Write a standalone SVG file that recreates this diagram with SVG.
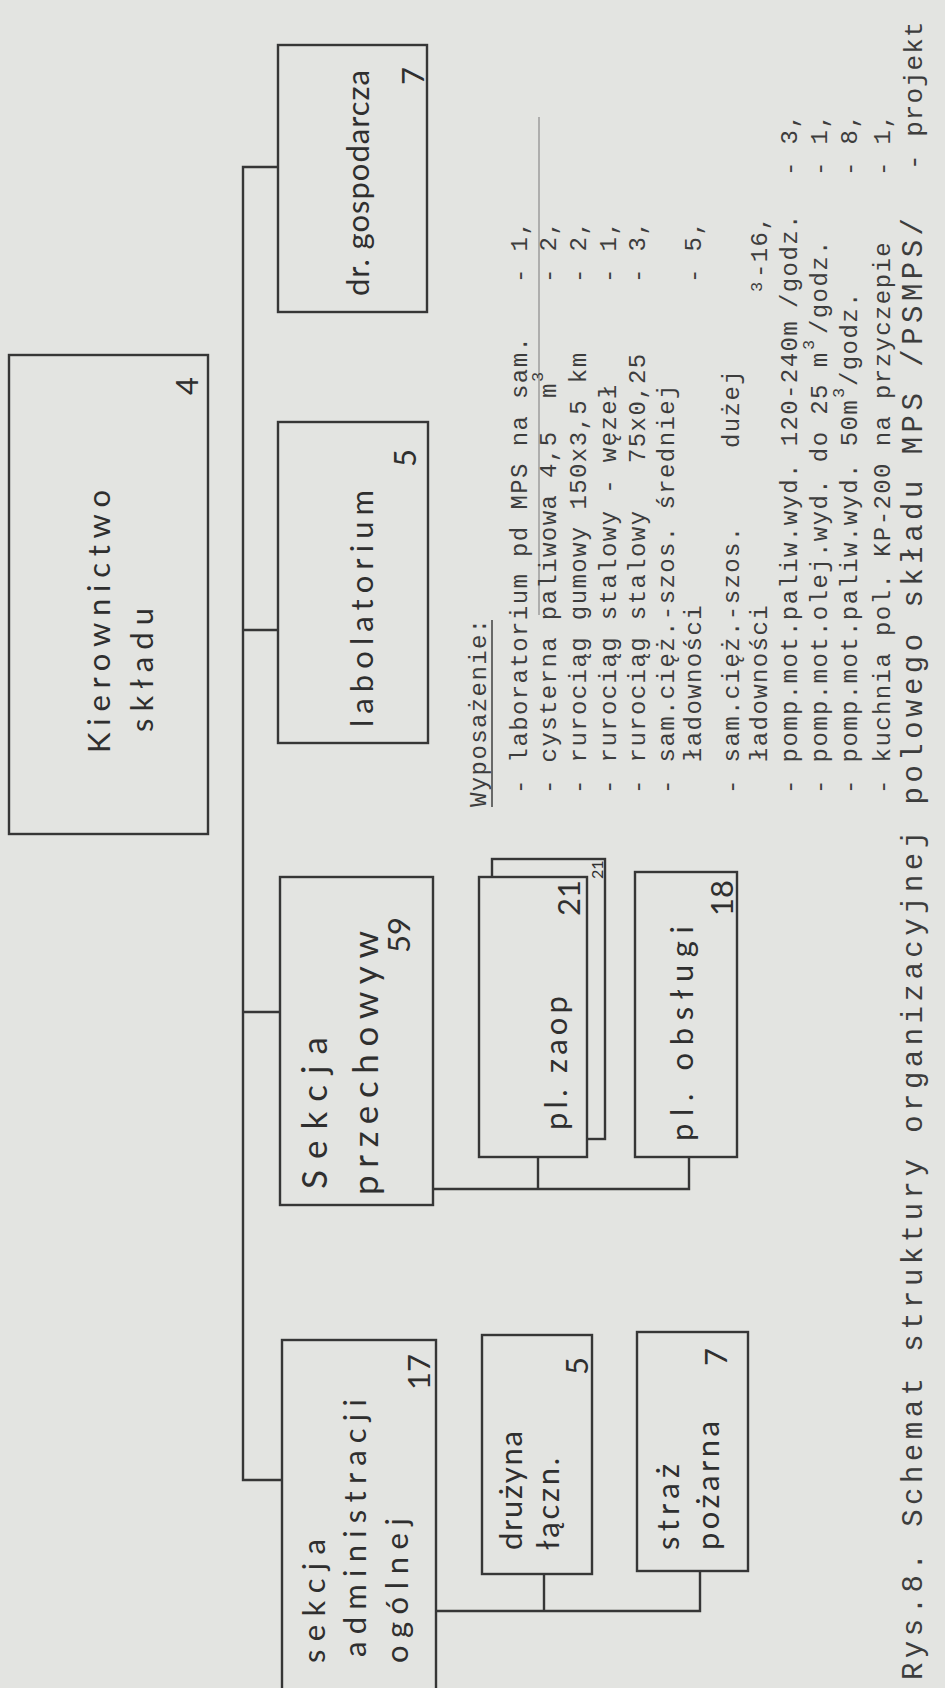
<svg xmlns="http://www.w3.org/2000/svg" width="945" height="1688" viewBox="0 0 945 1688">
<style>
.box{fill:#e3e4e1;stroke:#363636;stroke-width:2.4}
.ln{fill:none;stroke:#363636;stroke-width:2.4}
.rule{fill:none;stroke:#8a8a8a;stroke-width:1.2}
.hw{font-family:Lato,"Open Sans",sans-serif;font-size:31px;fill:#2f2f2f}
.big{font-size:35px}
.tw{font-family:"Liberation Mono","DejaVu Sans Mono",monospace;font-size:24px;letter-spacing:1.4px;fill:#3d3d3d}
.cap{font-family:"Liberation Mono","DejaVu Sans Mono",monospace;font-size:29px;fill:#3d3d3d}
.sup{font-family:"Liberation Mono","DejaVu Sans Mono",monospace;font-size:17px;fill:#3d3d3d}
</style>
<rect width="945" height="1688" fill="#e3e4e1"/>
<g transform="translate(0,1688) rotate(-90)">
  <g id="connectors">
    <path class="ln" d="M1521,278 L1521,243 L208,243 L208,282 M1058,243 L1058,278 M676,243 L676,280"/>
    <path class="ln" d="M499,433 L499,689 L531,689 M499,538 L531,538"/>
    <path class="ln" d="M77,436 L77,700 L117,700 M77,544 L114,544"/>
  </g>
  <g id="kierownictwo">
    <rect class="box" x="854" y="9" width="479" height="199"/>
    <text class="hw" x="935" y="110" textLength="263" lengthAdjust="spacing">Kierownictwo</text>
    <text class="hw" x="956" y="153" textLength="124" lengthAdjust="spacing">składu</text>
    <text class="hw" x="1293" y="198">4</text>
  </g>
  <g id="dr-gospodarcza">
    <rect class="box" x="1376" y="278" width="267" height="149"/>
    <text class="hw" x="1392" y="369" textLength="226" lengthAdjust="spacing">dr. gospodarcza</text>
    <text class="hw" x="1603" y="424">7</text>
  </g>
  <g id="labolatorium">
    <rect class="box" x="945" y="278" width="321" height="150"/>
    <text class="hw" x="961" y="373" textLength="237" lengthAdjust="spacing">labolatorium</text>
    <text class="hw" x="1221" y="416">5</text>
  </g>
  <g id="sekcja-przechowywania">
    <rect class="box" x="483" y="280" width="328" height="153"/>
    <text class="hw big" x="499" y="327" textLength="152" lengthAdjust="spacing">Sekcja</text>
    <text class="hw big" x="493" y="378" textLength="264" lengthAdjust="spacing">przechowyw</text>
    <text class="hw" x="735" y="410">59</text>
  </g>
  <g id="sekcja-administracji">
    <rect class="box" x="-2" y="282" width="350" height="154"/>
    <text class="hw" x="25" y="325" textLength="124" lengthAdjust="spacing">sekcja</text>
    <text class="hw" x="31" y="366" textLength="258" lengthAdjust="spacing">administracji</text>
    <text class="hw" x="25" y="408" textLength="145" lengthAdjust="spacing">ogólnej</text>
    <text class="hw" x="298" y="430">17</text>
  </g>
  <g id="pl-zaop">
    <rect class="box" x="549" y="492" width="280" height="113"/>
    <rect class="box" x="531" y="479" width="280" height="108"/>
    <text class="hw" x="558" y="567" textLength="134" lengthAdjust="spacing">pl. zaop</text>
    <text class="hw" x="772" y="580">21</text>
    <text class="hw" x="809" y="603" style="font-size:16px">21</text>
  </g>
  <g id="pl-obslugi">
    <rect class="box" x="531" y="635" width="285" height="102"/>
    <text class="hw" x="547" y="693" textLength="215" lengthAdjust="spacing">pl. obsługi</text>
    <text class="hw" x="772" y="733">18</text>
  </g>
  <g id="druzyna-laczn">
    <rect class="box" x="114" y="482" width="239" height="110"/>
    <text class="hw" x="138" y="522" textLength="119" lengthAdjust="spacing">drużyna</text>
    <text class="hw" x="138" y="559" textLength="92" lengthAdjust="spacing">łączn.</text>
    <text class="hw" x="313" y="588">5</text>
  </g>
  <g id="straz-pozarna">
    <rect class="box" x="117" y="637" width="239" height="111"/>
    <text class="hw" x="138" y="679" textLength="86" lengthAdjust="spacing">straż</text>
    <text class="hw" x="138" y="719" textLength="129" lengthAdjust="spacing">pożarna</text>
    <text class="hw" x="322" y="727">7</text>
  </g>
  <g id="wyposazenie">
    <line class="rule" x1="1073" y1="539" x2="1571" y2="539"/>
    <text class="tw" x="881" y="486">Wyposażenie:</text>
    <line class="rule" x1="881" y1="492" x2="1068" y2="492" style="stroke:#4a4a4a;stroke-width:1.6"/>
    <text class="tw" x="894" y="527">- laboratorium pd MPS na sam.</text>
    <text class="tw" x="1405" y="527">- 1,</text>
    <text class="tw" x="894" y="556">- cysterna paliwowa 4,5</text>
    <text class="tw" x="1290" y="556">m</text>
    <text class="sup" x="1306" y="543">3</text>
    <text class="tw" x="1405" y="556">- 2,</text>
    <text class="tw" x="894" y="586">- rurociąg gumowy 150x3,5 km</text>
    <text class="tw" x="1405" y="586">- 2,</text>
    <text class="tw" x="894" y="616">- rurociąg stalowy - węzeł</text>
    <text class="tw" x="1405" y="616">- 1,</text>
    <text class="tw" x="894" y="645">- rurociąg stalowy</text>
    <text class="tw" x="1225" y="645">75x0,25</text>
    <text class="tw" x="1405" y="645">- 3,</text>
    <text class="tw" x="894" y="674">- sam.cięż.-szos. średniej</text>
    <text class="tw" x="926" y="701">ładowności</text>
    <text class="tw" x="1405" y="701">- 5,</text>
    <text class="tw" x="894" y="739">- sam.cięż.-szos.</text>
    <text class="tw" x="1240" y="739">dużej</text>
    <text class="tw" x="926" y="767">ładowności</text>
    <text class="sup" x="1396" y="762">3</text>
    <text class="tw" x="1410" y="767">-16,</text>
    <text class="tw" x="894" y="797">- pomp.mot.paliw.wyd. 120-240m</text>
    <text class="tw" x="1380" y="797">/godz.</text>
    <text class="tw" x="1512" y="797">- 3,</text>
    <text class="tw" x="894" y="827">- pomp.mot.olej.wyd. do 25 m</text>
    <text class="sup" x="1338" y="814">3</text>
    <text class="tw" x="1354" y="827">/godz.</text>
    <text class="tw" x="1512" y="827">- 1,</text>
    <text class="tw" x="894" y="857">- pomp.mot.paliw.wyd. 50m</text>
    <text class="sup" x="1290" y="844">3</text>
    <text class="tw" x="1302" y="857">/godz.</text>
    <text class="tw" x="1512" y="857">- 8,</text>
    <text class="tw" x="894" y="890">- kuchnia pol. KP-200 na przyczepie</text>
    <text class="tw" x="1512" y="890">- 1,</text>
  </g>
  <g id="caption">
    <text class="cap" x="8" y="922" textLength="1462" lengthAdjust="spacing">Rys.8. Schemat struktury organizacyjnej polowego składu MPS /PSMPS/</text>
    <text class="tw" x="1518" y="922" style="font-size:26px;letter-spacing:1px">- projekt</text>
  </g>
</g>
</svg>
